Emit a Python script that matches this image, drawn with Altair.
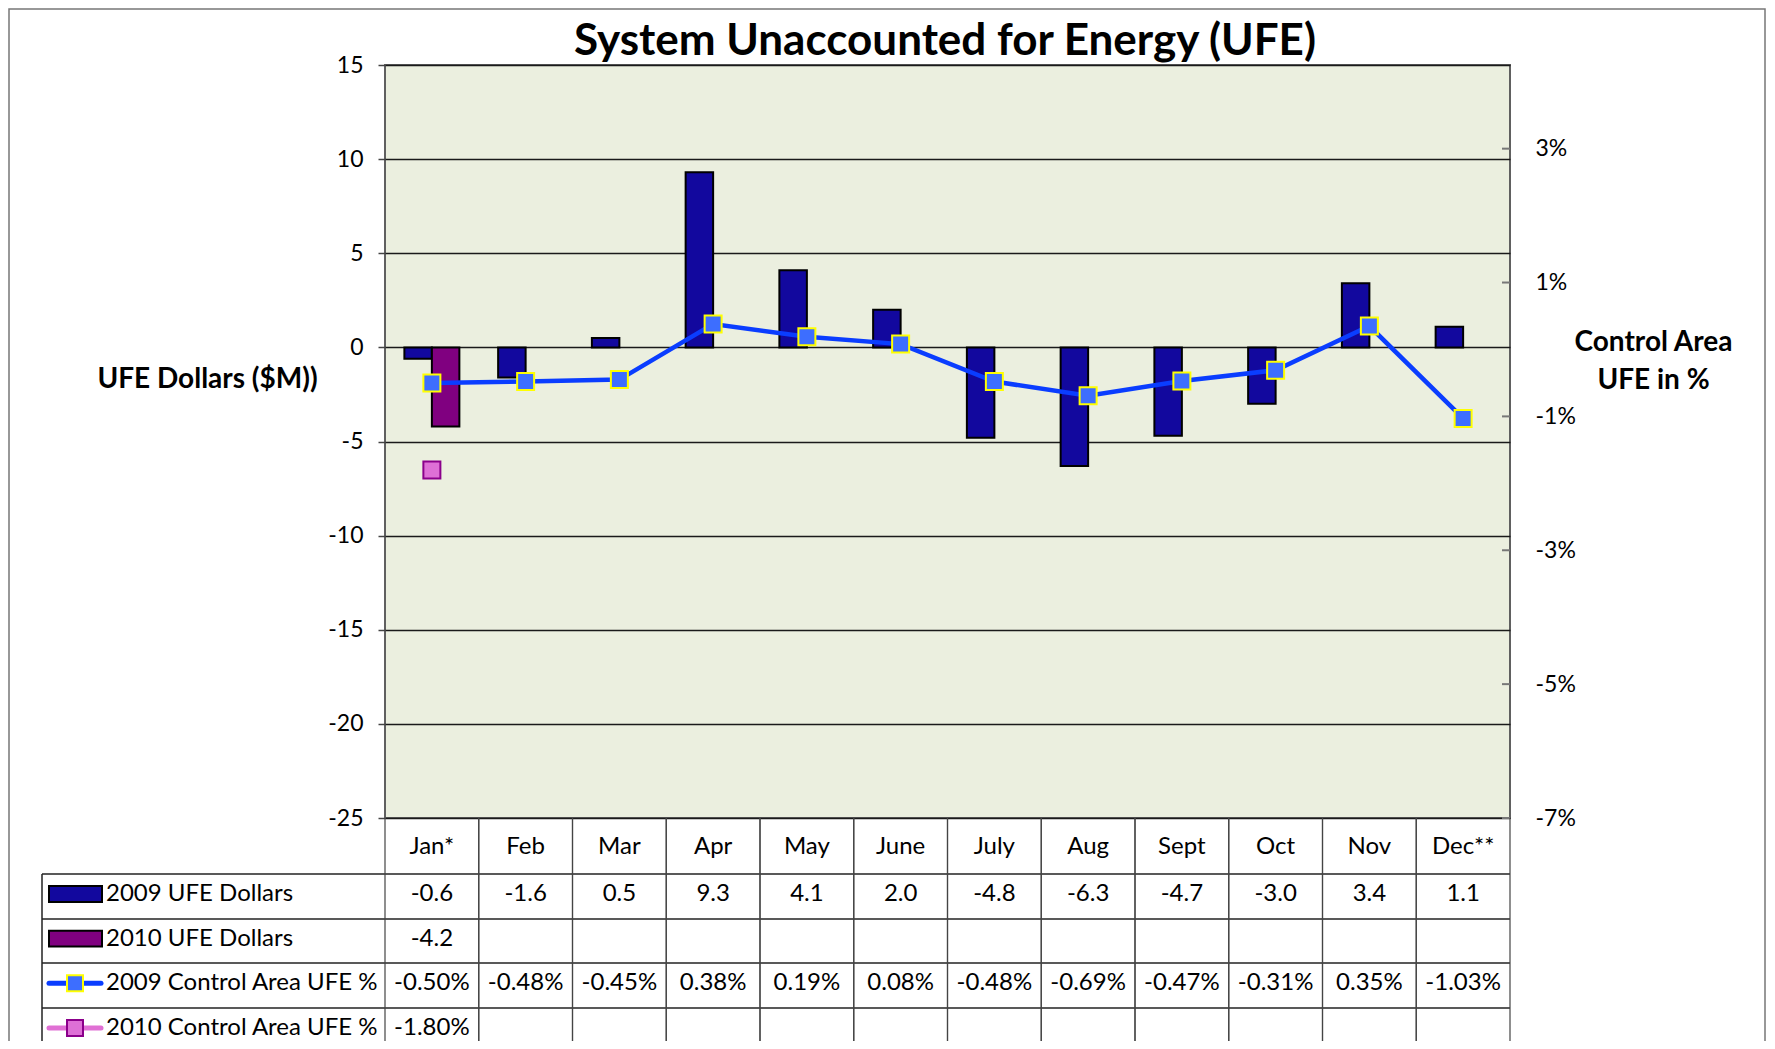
import altair as alt
import pandas as pd

MONTHS = ["Jan*", "Feb", "Mar", "Apr", "May", "June", "July", "Aug", "Sept", "Oct", "Nov", "Dec**"]
UFE_2009 = [-0.6, -1.6, 0.5, 9.3, 4.1, 2.0, -4.8, -6.3, -4.7, -3.0, 3.4, 1.1]
UFE_2010 = [-4.2]  # Jan only
PCT_2009 = [-0.50, -0.48, -0.45, 0.38, 0.19, 0.08, -0.48, -0.69, -0.47, -0.31, 0.35, -1.03]
PCT_2010 = [-1.80]  # Jan only
ROWS = ["2009 UFE Dollars", "2010 UFE Dollars", "2009 Control Area UFE %", "2010 Control Area UFE %"]
LEFT_TICKS = [-25, -20, -15, -10, -5, 0, 5, 10, 15]
RIGHT_TICKS = [-7, -5, -3, -1, 1, 3]
TITLE = "System Unaccounted for Energy (UFE)"

FONT = "Lato"
W, H = 1125, 753
C09, C10 = "#12089E", "#800080"
LINE09, PT09, PT09S = "#0A3DFF", "#3D6EFF", "#FFFF00"
LINE10, PT10, PT10S = "#E070D4", "#DE70D6", "#8B008B"

bars_df = pd.DataFrame(
    [{"month": m, "series": "2009", "value": v} for m, v in zip(MONTHS, UFE_2009)]
    + [{"month": m, "series": "2010", "value": v} for m, v in zip(MONTHS, UFE_2010)]
)
p09 = pd.DataFrame({"month": MONTHS, "pct": PCT_2009})
p10 = pd.DataFrame({"month": MONTHS[:len(PCT_2010)], "pct": PCT_2010})
rticks = pd.DataFrame({"pct": RIGHT_TICKS})

cells = []
for m, v in zip(MONTHS, UFE_2009):
    cells.append({"month": m, "row": ROWS[0], "txt": f"{v:.1f}"})
for m, v in zip(MONTHS, UFE_2010):
    cells.append({"month": m, "row": ROWS[1], "txt": f"{v:.1f}"})
for m, v in zip(MONTHS, PCT_2009):
    cells.append({"month": m, "row": ROWS[2], "txt": f"{v:.2f}%"})
for m, v in zip(MONTHS, PCT_2010):
    cells.append({"month": m, "row": ROWS[3], "txt": f"{v:.2f}%"})
cells_df = pd.DataFrame(cells)
rows_df = pd.DataFrame({"row": ROWS})
months_df = pd.DataFrame({"month": MONTHS})
one = pd.DataFrame({"title": [TITLE]})

xs = alt.Scale(domain=MONTHS, paddingInner=0, paddingOuter=0)
x_noaxis = alt.X("month:N", scale=xs, axis=None)
row_scale = alt.Scale(type="point", domain=ROWS, range=[829, 963], padding=0)
y_row = alt.Y("row:N", scale=row_scale, axis=None)

# ---------- left (dollars) group ----------
frame = alt.Chart(one).mark_rect(fill=None, stroke="#777", strokeWidth=1.5).encode(
    x=alt.value(-376), x2=alt.value(1380), y=alt.value(-56), y2=alt.value(1100)
)
bars = alt.Chart(bars_df).mark_bar(stroke="black", strokeWidth=2).encode(
    x=x_noaxis,
    xOffset=alt.XOffset("series:N", scale=alt.Scale(domain=["2009", "2010"], paddingInner=0, paddingOuter=0.705)),
    y=alt.Y("value:Q", scale=alt.Scale(domain=[-25, 15], nice=False, zero=False),
            axis=alt.Axis(values=LEFT_TICKS, labelExpr="datum.value + ''", grid=True,
                          gridColor="#1a1a1a", gridWidth=1.5,
                          tickSize=7, tickColor="#444", tickWidth=1.5, domain=False,
                          labelFont=FONT, labelFontSize=23, labelColor="black", labelPadding=15,
                          title="UFE Dollars ($M))", titleAngle=0, titleX=-178, titleY=314,
                          titleAlign="center", titleBaseline="middle", titleFont=FONT,
                          titleFontSize=28, titleFontWeight="bold", titleColor="black")),
    color=alt.Color("series:N", scale=alt.Scale(domain=["2009", "2010"], range=[C09, C10]), legend=None),
)
left = alt.layer(frame, bars)

# ---------- right (percent) group ----------
yr = alt.Scale(domain=[-7, 4.25], nice=False, zero=False)
line09 = alt.Chart(p09).mark_line(color=LINE09, strokeWidth=4.5).encode(
    x=x_noaxis,
    y=alt.Y("pct:Q", scale=yr,
            axis=alt.Axis(orient="right", values=RIGHT_TICKS, labelExpr="datum.value + '%'",
                          grid=False, domain=False, tickSize=0, labelPadding=25,
                          labelFont=FONT, labelFontSize=23, labelColor="black",
                          title=["Control Area", "UFE in %"], titleAngle=0, titleX=143, titleY=285,
                          titleAlign="center", titleBaseline="alphabetic", titleLineHeight=38,
                          titleFont=FONT, titleFontSize=28, titleFontWeight="bold", titleColor="black")),
)
pts09 = alt.Chart(p09).mark_point(shape="square", size=289, filled=True, fill=PT09,
                                  stroke=PT09S, strokeWidth=2, opacity=1).encode(
    x=x_noaxis, y=alt.Y("pct:Q", scale=yr))
pts10 = alt.Chart(p10).mark_point(shape="square", size=289, filled=True, fill=PT10,
                                  stroke=PT10S, strokeWidth=2, opacity=1).encode(
    x=x_noaxis, y=alt.Y("pct:Q", scale=yr))
inticks = alt.Chart(rticks).mark_rule(color="#777", strokeWidth=2).encode(
    y=alt.Y("pct:Q", scale=yr), x=alt.value(W - 8), x2=alt.value(W))
right = alt.layer(line09, pts09, pts10, inticks)

# ---------- title + data table ----------
tbl_layers = []
tbl_layers.append(alt.Chart(one).mark_text(font=FONT, fontSize=44, fontWeight="bold", color="black",
                                           align="center", baseline="alphabetic").encode(
    x=alt.value(560), y=alt.value(-10), text="title:N"))
for yy in [809, 854, 898, 943]:
    tbl_layers.append(alt.Chart(one).mark_rule(color="#222", strokeWidth=1.5).encode(
        x=alt.value(-343), x2=alt.value(W), y=alt.value(yy)))
tbl_layers.append(alt.Chart(one).mark_rule(color="#222", strokeWidth=1.5).encode(
    x=alt.value(-343), y=alt.value(809), y2=alt.value(1000)))
for bp in [0, 1]:
    tbl_layers.append(alt.Chart(months_df).mark_rule(color="#444", strokeWidth=1.2).encode(
        x=alt.X("month:N", scale=xs, axis=None, bandPosition=bp),
        y=alt.value(H), y2=alt.value(1000)))
tbl_layers.append(alt.Chart(months_df).mark_text(font=FONT, fontSize=24, color="black",
                                                 baseline="middle").encode(
    x=x_noaxis, y=alt.value(H + 29), text="month:N"))
tbl_layers.append(alt.Chart(cells_df).mark_text(font=FONT, fontSize=24, color="black").encode(
    x=x_noaxis, y=y_row, text="txt:N"))
tbl_layers.append(alt.Chart(rows_df).mark_text(font=FONT, fontSize=24, color="black", align="left").encode(
    x=alt.value(-279), y=y_row, text="row:N"))
swatch = "M-1,-0.3L1,-0.3L1,0.3L-1,0.3Z"
for r, c in [(ROWS[0], C09), (ROWS[1], C10)]:
    tbl_layers.append(alt.Chart(rows_df).transform_filter(alt.datum.row == r).mark_point(
        shape=swatch, size=2809, filled=True, fill=c, stroke="black", strokeWidth=2, opacity=1).encode(
        x=alt.value(-309.5), y=y_row))
for r, lc, f, s in [(ROWS[2], LINE09, PT09, PT09S), (ROWS[3], LINE10, PT10, PT10S)]:
    tbl_layers.append(alt.Chart(rows_df).transform_filter(alt.datum.row == r).mark_rule(
        color=lc, strokeWidth=5, strokeCap="round").encode(
        x=alt.value(-336), x2=alt.value(-284), y=y_row))
    tbl_layers.append(alt.Chart(rows_df).transform_filter(alt.datum.row == r).mark_point(
        shape="square", size=256, filled=True, fill=f, stroke=s, strokeWidth=2, opacity=1).encode(
        x=alt.value(-310), y=y_row))
table = alt.layer(*tbl_layers)

chart = alt.layer(left, right, table).resolve_scale(y="independent").properties(
    width=W, height=H,
    autosize=alt.AutoSizeParams(type="none"),
    padding={"left": 377, "top": 57, "right": 257, "bottom": 223},
).configure_view(fill="#EBEFDF", stroke="#606060", strokeWidth=2)

chart.save("out.html", embed_options={"renderer": "svg", "actions": False})
